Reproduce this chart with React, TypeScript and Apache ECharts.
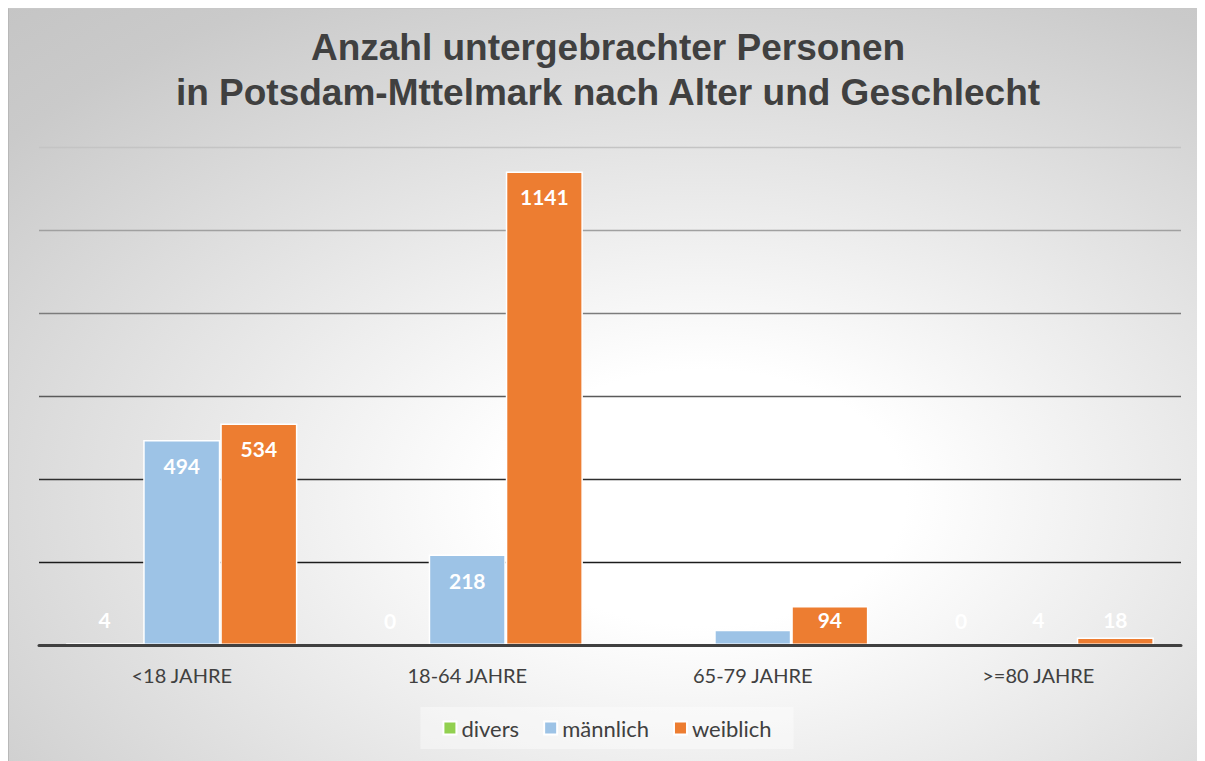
import React, { useEffect, useRef } from "react";
import * as echarts from "echarts";

const TITLE = "Anzahl untergebrachter Personen\nin Potsdam-Mttelmark nach Alter und Geschlecht";
const categories = ["<18 JAHRE", "18-64 JAHRE", "65-79 JAHRE", ">=80 JAHRE"];
const seriesNames = ["divers", "männlich", "weiblich"];
const diversValues = [4, 0, 0, 0];
const maennlichValues = [494, 218, 37, 4];
const weiblichValues = [534, 1141, 94, 18];
const seriesColors = ["#92d050", "#9dc3e6", "#ed7d31"];
const yMax = 1200;
const yInterval = 200;
const gridLineColors = ["#000000", "#1c1c1c", "#2e2e2e", "#5a5a5a", "#7c7c7c", "#a0a0a0", "#c4c4c4"];

const FONT = "Lato, 'Open Sans', sans-serif";

export default function App() {
  const ref = useRef<HTMLDivElement>(null);
  useEffect(() => {
    if (!ref.current) return;
    document.body.style.overflow = "hidden";
    const chart = echarts.init(ref.current, null, { renderer: "svg" });
    const allValues = [diversValues, maennlichValues, weiblichValues];
    chart.setOption({
      animation: false,
      backgroundColor: {
        type: "radial",
        x: 0.58,
        y: 0.65,
        r: 1.0,
        colorStops: [
          { offset: 0, color: "#ffffff" },
          { offset: 0.17, color: "#ffffff" },
          { offset: 0.75, color: "#cacaca" },
          { offset: 1, color: "#c0c0c0" },
        ],
      },
      title: {
        text: TITLE,
        left: 599,
        top: 16,
        padding: 0,
        textAlign: "center",
        textStyle: {
          fontFamily: "'Liberation Sans', Arial, sans-serif",
          fontWeight: "bold",
          fontSize: 37,
          lineHeight: 45,
          color: "#404040",
          align: "center",
        },
      },
      legend: {
        data: seriesNames,
        left: "center",
        top: 698,
        icon: "rect",
        itemWidth: 13,
        itemHeight: 13,
        itemGap: 24,
        padding: [10, 22, 10, 22],
        backgroundColor: "rgba(255,255,255,0.4)",
        textStyle: { fontFamily: FONT, fontSize: 22, color: "#404040" },
      },
      grid: { left: 30, right: 24, top: 138, bottom: 116, containLabel: false },
      xAxis: {
        type: "category",
        data: categories,
        z: 5,
        axisLine: { lineStyle: { color: "#404040", width: 3 } },
        axisTick: { show: false },
        axisLabel: { margin: 20, fontFamily: FONT, fontSize: 20, color: "#404040" },
      },
      yAxis: {
        type: "value",
        min: 0,
        max: yMax,
        interval: yInterval,
        axisLabel: { show: false },
        axisLine: { show: false },
        axisTick: { show: false },
        splitLine: { lineStyle: { color: gridLineColors, width: 1.3 } },
      },
      series: seriesNames.map((name, i) => ({
        name,
        type: "bar",
        barGap: "0%",
        barCategoryGap: "19%",
        itemStyle: { color: seriesColors[i], borderColor: "#ffffff", borderWidth: 1.5 },
        label: {
          show: true,
          position: "insideTop",
          distance: 15,
          color: "#ffffff",
          fontFamily: FONT,
          fontWeight: "bold",
          fontSize: 21,
        },
        data: allValues[i].map((v) =>
          v < 120 ? { value: v, label: { position: "insideBottom", distance: 15 } } : { value: v }
        ),
      })),
    });
    return () => chart.dispose();
  }, []);
  return (
    <div
      ref={ref}
      style={{
        width: 1197,
        height: 753,
        boxSizing: "border-box",
        borderLeft: "1px solid #b8b8b8",
        borderTop: "1px solid #c8c8c8",
      }}
    />
  );
}
